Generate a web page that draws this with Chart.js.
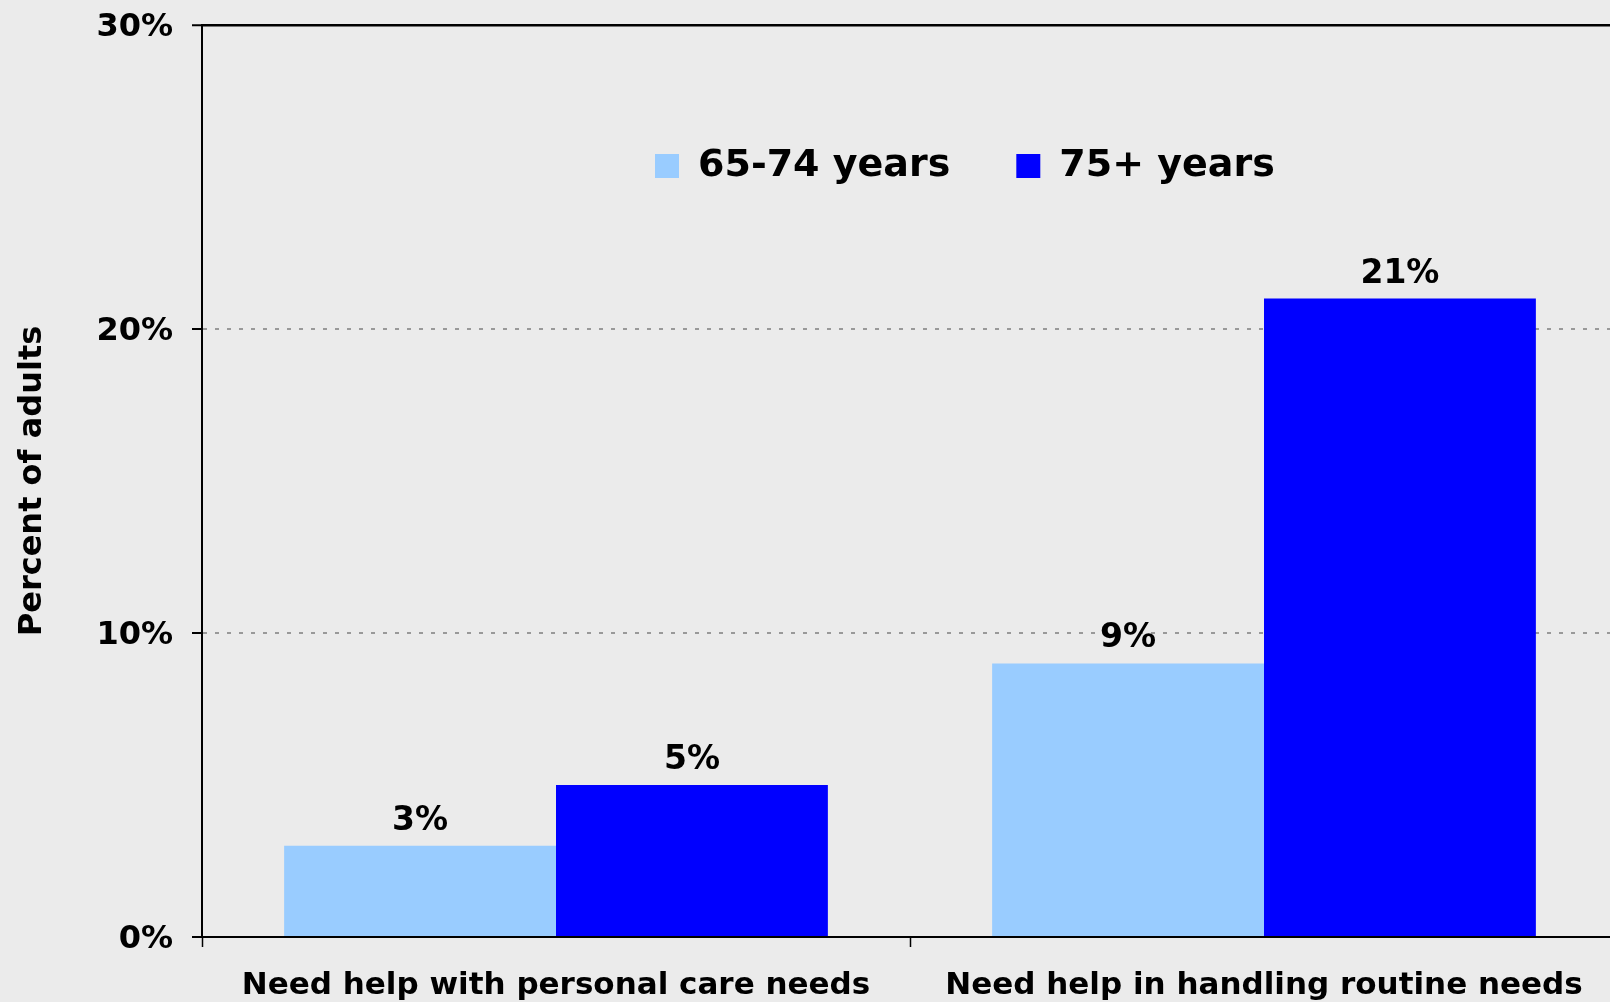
<!DOCTYPE html>
<html>
  <head>
    <title>Older adults needing help</title>
    <style>
      html, body { margin: 0; padding: 0; background: #ebebeb; overflow: hidden; }
      #wrap { width: 1618px; height: 1002px; }
    </style>
  </head>
  <body>
    <script src="https://cdn.jsdelivr.net/npm/chart.js@4.4.1/dist/chart.umd.min.js"></script>

    <div id="wrap"><canvas id="helpChart" width="1618" height="1002"></canvas></div>

    <script>
      // data
      const categories = ["Need help with personal care needs", "Need help in handling routine needs"];
      const seriesNames = ["65-74 years", "75+ years"];
      const age65to74 = [3, 9];
      const age75plus = [5, 21];
      const yMin = 0;
      const yMax = 30;
      const yStep = 10;

      const FONT = "'DejaVu Sans', Verdana, sans-serif";

      // legend takes no room at the top and is drawn inside the plot, like the original
      const legendInside = {
        id: "legendInside",
        beforeLayout(chart) {
          const l = chart.legend;
          if (l && !l._noHeight) {
            const fit = l.fit.bind(l);
            l.fit = function () { fit(); this.height = 0; };
            l._noHeight = true;
          }
        },
        afterLayout(chart) {
          const l = chart.legend;
          l.left = 655 - l.options.labels.padding;
          l.right = chart.width;
          l.top = 81;
          l.bottom = 200;
        }
      };

      // value labels on top of the bars
      const barLabels = {
        id: "barLabels",
        afterDatasetsDraw(chart) {
          const ctx = chart.ctx;
          ctx.save();
          ctx.font = "bold 33px " + FONT;
          ctx.fillStyle = "#000";
          ctx.textAlign = "center";
          ctx.textBaseline = "alphabetic";
          chart.data.datasets.forEach((ds, i) => {
            chart.getDatasetMeta(i).data.forEach((bar, j) => {
              ctx.fillText(ds.data[j] + "%", bar.x, bar.y - 16);
            });
          });
          ctx.restore();
        }
      };

      const ctx = document.getElementById("helpChart").getContext("2d");

      const chart = new Chart(ctx, {
        type: "bar",
        data: {
          labels: categories,
          datasets: [
            { label: seriesNames[0], data: age65to74, backgroundColor: "#99ccff" },
            { label: seriesNames[1], data: age75plus, backgroundColor: "#0000ff" }
          ]
        },
        options: {
          responsive: false,
          animation: false,
          categoryPercentage: 0.768,
          barPercentage: 1,
          layout: { padding: { top: 25, right: 0, bottom: 0, left: 0 } },
          plugins: {
            tooltip: { enabled: false },
            legend: {
              position: "top",
              align: "start",
              labels: {
                boxWidth: 24,
                boxHeight: 24,
                padding: 66,
                color: "#000",
                font: { family: FONT, size: 38, weight: "bold" }
              }
            }
          },
          scales: {
            x: {
              grid: { drawOnChartArea: false, tickLength: 10, tickColor: "#000", tickWidth: 1.5 },
              border: { color: "#000", width: 2 },
              ticks: {
                color: "#000",
                padding: 20,
                maxRotation: 0,
                font: { family: FONT, size: 31, weight: "bold" }
              },
              afterFit(scale) { scale.height = 65; scale.paddingLeft = 0; scale.paddingRight = 0; }
            },
            y: {
              min: yMin,
              max: yMax,
              ticks: {
                stepSize: yStep,
                color: "#000",
                padding: 19,
                labelOffset: 3,
                font: { family: FONT, size: 32, weight: "bold" },
                callback: v => v + "%"
              },
              grid: {
                color: c => c.tick.value === yMax ? "#000" : (c.tick.value === yMin ? "rgba(0,0,0,0)" : "#999"),
                lineWidth: c => c.tick.value === yMax ? 2.5 : 2,
                tickColor: "#000",
                tickLength: 10,
                tickWidth: 2
              },
              border: {
                color: "#000",
                width: 2,
                dash: c => (c.tick && c.tick.value === yMax) ? [] : [4, 8]
              },
              title: {
                display: true,
                text: "Percent of adults",
                color: "#000",
                padding: { top: 13, bottom: 0 },
                font: { family: FONT, size: 32, weight: "bold" }
              },
              afterFit(scale) { scale.width = 202; scale.paddingTop = 0; scale.paddingBottom = 0; }
            }
          }
        },
        plugins: [legendInside, barLabels]
      });
    </script>
  </body>
</html>
